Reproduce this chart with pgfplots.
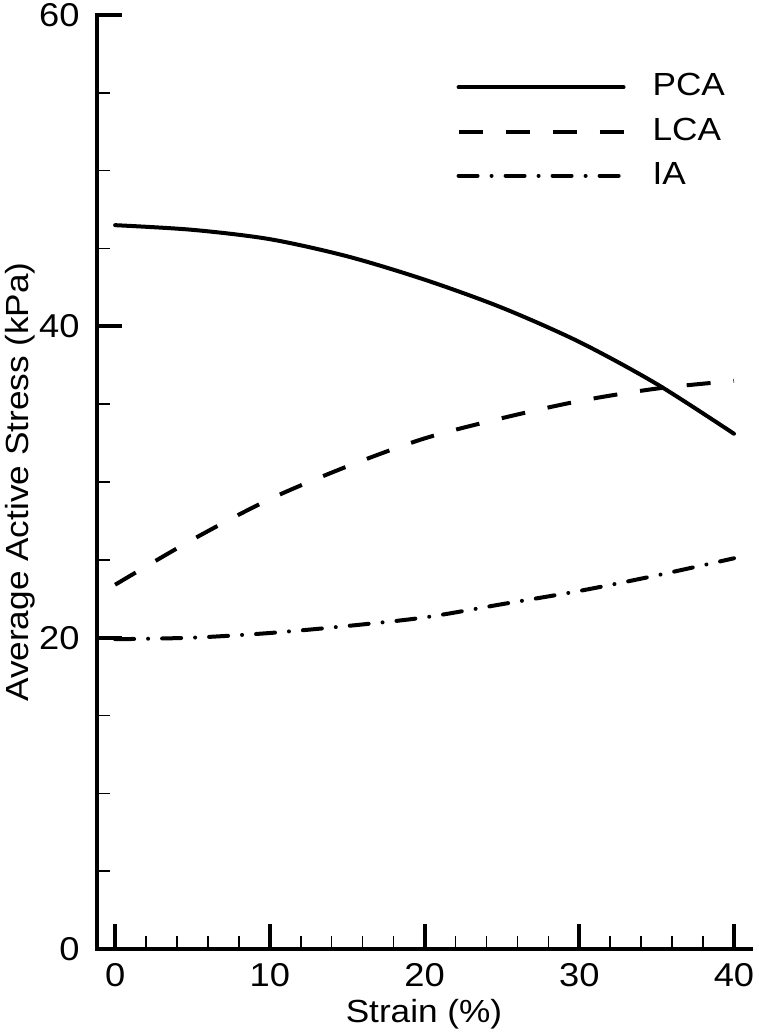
\documentclass[border=0pt]{standalone}
\usepackage{fontspec}
\setmainfont[FakeStretch=1.1]{Liberation Sans}
\usepackage{pgfplots}
\pgfplotsset{compat=1.18}

\begin{document}
\begin{tikzpicture}
% page size = reference size (1px = 0.5pt)
\path[use as bounding box] (-48.5pt,-43pt) rectangle (331pt,474.5pt);
\begin{axis}[
    scale only axis,
    width=327pt, height=467pt,
    xmin=-1.17, xmax=41.1,
    ymin=0, ymax=60,
    axis x line=bottom, axis y line=left,
    axis line style={-, line width=2pt, line cap=rect},
    xtick={0,10,...,40}, ytick={0,20,40,60},
    minor x tick num=4, minor y tick num=3,
    tick align=inside,
    major tick length=12.5pt, minor tick length=6.5pt,
    major tick style={line width=2pt, black},
    minor tick style={line width=0.75pt, black},
    /pgf/number format/assume math mode=true,
    font=\fontsize{16}{19}\selectfont,
    ticklabel style={font=\fontsize{16.5}{19}\selectfont},
    yticklabel style={inner sep=0pt, anchor=east, xshift=-8.5pt},
    xticklabel style={inner sep=0pt, anchor=north, yshift=-7pt},
    xlabel={Strain (\%)},
    ylabel={Average Active Stress (kPa)},
    x label style={at={([yshift=-32.5pt]axis description cs:0.5,0)}, anchor=center},
    y label style={at={([xshift=-38.5pt]axis description cs:0,0.5)}, anchor=center},
    legend style={draw=none, fill=none, at={(rel axis cs:0.54,0.942)}, anchor=north west,
        nodes={inner sep=0pt}, row sep=9.5pt},
    legend cell align=left,
    legend image code/.code={\draw[#1] (0pt,-0.5pt) -- (82.5pt,-0.5pt); \path (96pt,-0.5pt);},
    every axis plot/.append style={black, line width=2pt, smooth},
]
% PCA
\addplot[solid, line cap=round] coordinates {
    (0,46.5) (5,46.2) (10,45.6) (15,44.5) (20,43.0) (25,41.2) (30,39.0) (35,36.3) (40,33.1)
};
\addlegendentry{PCA}
% LCA
\addplot[dash pattern=on 12pt off 11.5pt] coordinates {
    (0,23.4) (5,26.3) (10,28.9) (15,31.0) (20,32.8) (25,34.1) (30,35.2) (35,36.0) (40,36.5)
};
\addlegendentry{LCA}
% IA
\addplot[line cap=round, dash pattern=on 9.5pt off 7pt on 0.01pt off 7pt] coordinates {
    (0,19.9) (5,20.0) (10,20.3) (15,20.75) (20,21.3) (25,22.15) (30,23.0) (35,24.0) (40,25.1)
};
\addlegendentry{IA}
\end{axis}
\end{tikzpicture}
\end{document}
